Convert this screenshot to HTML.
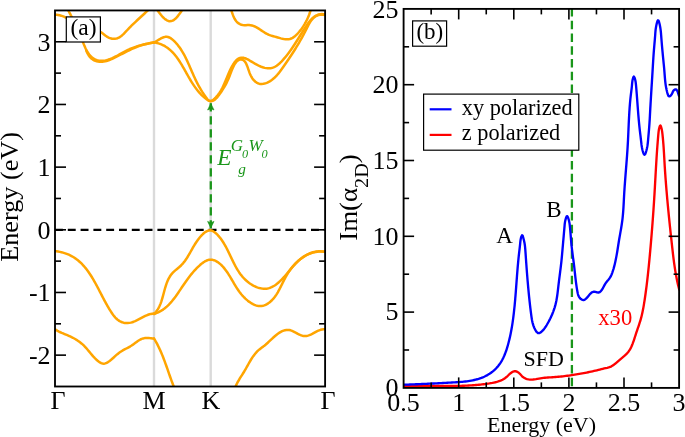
<!DOCTYPE html><html><head><meta charset="utf-8"><style>html,body{margin:0;padding:0;background:#fff;overflow:hidden;}svg{display:block;filter:blur(0.35px);}text{font-family:"Liberation Serif",serif;}</style></head><body>
<svg width="685" height="437" viewBox="0 0 685 437">
<rect width="685" height="437" fill="#fff"/>
<defs><clipPath id="cl"><rect x="55" y="10.45" width="270.1" height="376.05"/></clipPath><clipPath id="cr"><rect x="403.6" y="8.9" width="275.5" height="379.0"/></clipPath></defs>
<line x1="154.0" y1="10.45" x2="154.0" y2="386.5" stroke="#dadada" stroke-width="2.4"/>
<line x1="210.7" y1="10.45" x2="210.7" y2="386.5" stroke="#dadada" stroke-width="2.4"/>
<line x1="55" y1="229.8" x2="325.1" y2="229.8" stroke="#000" stroke-width="2.3" stroke-dasharray="7.9 4.9"/>
<g clip-path="url(#cl)" fill="none" stroke="#ffa500" stroke-width="2.5" stroke-linejoin="round" stroke-linecap="round">
<path d="M54.97,14.81 L56.56,14.86 L58.10,15.03 L59.61,15.30 L61.08,15.68 L62.52,16.14 L63.93,16.67 L65.31,17.28 L66.67,17.94 L68.02,18.65 L69.36,19.40 L70.68,20.17 L72.00,20.97 L73.32,21.76 L74.64,22.56 L75.96,23.34 L77.30,24.10 L78.65,24.82 L80.01,25.51 L81.40,26.14 L82.81,26.72 L84.23,27.25 L85.67,27.74 L87.13,28.20 L88.59,28.61 L90.07,28.99 L91.55,29.35 L93.04,29.68 L94.53,29.99 L96.01,30.32 L97.47,30.70 L98.89,31.18 L100.25,31.80 L101.54,32.58 L102.78,33.49 L104.01,34.45 L105.23,35.43 L106.48,36.34 L107.79,37.15 L109.15,37.81 L110.55,38.32 L111.98,38.67 L113.41,38.84 L114.83,38.82 L116.22,38.62 L117.58,38.21 L118.88,37.61 L120.15,36.85 L121.37,35.94 L122.56,34.92 L123.73,33.82 L124.87,32.66 L126.00,31.47 L127.11,30.27 L128.21,29.10 L129.31,27.95 L130.40,26.83 L131.49,25.74 L132.58,24.66 L133.66,23.61 L134.75,22.57 L135.83,21.54 L136.91,20.52 L138.00,19.51 L139.08,18.51 L140.17,17.50 L141.26,16.50 L142.36,15.49 L143.46,14.48 L144.57,13.46 L145.68,12.42 L146.80,11.37 L147.93,10.30 L149.07,9.22 L150.22,8.11"/>
<path d="M65.83,6.00 L66.61,7.38 L67.37,8.76 L68.11,10.13 L68.84,11.49 L69.56,12.84 L70.26,14.19 L70.96,15.53 L71.64,16.88 L72.30,18.21 L72.96,19.55 L73.61,20.89 L74.25,22.23 L74.89,23.57 L75.51,24.91 L76.13,26.26 L76.75,27.61 L77.35,28.97 L77.96,30.34 L78.56,31.71 L79.16,33.09 L79.75,34.49 L80.35,35.89 L80.94,37.31 L81.53,38.74 L82.12,40.18 L82.72,41.64 L83.32,43.12 L83.92,44.60 L84.54,46.09 L85.18,47.56 L85.86,49.00 L86.57,50.41 L87.33,51.77 L88.14,53.07 L89.01,54.30 L89.96,55.45 L90.98,56.50 L92.08,57.44 L93.24,58.29 L94.46,59.02 L95.73,59.63 L97.03,60.13 L98.36,60.51 L99.72,60.75 L101.09,60.87 L102.47,60.87 L103.85,60.75 L105.25,60.52 L106.65,60.20 L108.07,59.79 L109.48,59.30 L110.90,58.74 L112.33,58.12 L113.76,57.45 L115.18,56.74 L116.61,56.00 L118.04,55.23 L119.47,54.44 L120.89,53.65 L122.31,52.86 L123.73,52.08 L125.14,51.32 L126.54,50.60 L127.94,49.91 L129.32,49.26 L130.71,48.66 L132.08,48.09 L133.46,47.57 L134.84,47.07 L136.22,46.61 L137.60,46.18 L139.00,45.77 L140.40,45.38 L141.82,45.01 L143.25,44.66 L144.70,44.33 L146.16,44.00 L147.65,43.69 L149.16,43.37 L150.70,43.07 L152.26,42.76 L153.86,42.44"/>
<path d="M86.15,50.21 L86.86,52.05 L87.67,53.72 L88.57,55.22 L89.55,56.55 L90.60,57.72 L91.72,58.73 L92.90,59.59 L94.13,60.30 L95.40,60.88 L96.72,61.31 L98.06,61.61 L99.43,61.78 L100.82,61.83 L102.21,61.76 L103.63,61.59 L105.05,61.32 L106.48,60.96 L107.91,60.52 L109.35,60.02 L110.80,59.45 L112.24,58.83 L113.68,58.16 L115.13,57.46 L116.56,56.74 L118.00,56.00 L119.42,55.25 L120.84,54.51 L122.24,53.77 L123.64,53.05 L125.03,52.34 L126.41,51.64 L127.80,50.95 L129.18,50.28 L130.55,49.63 L131.93,48.99 L133.32,48.38 L134.70,47.79 L136.10,47.21 L137.50,46.67 L138.91,46.14 L140.33,45.65 L141.76,45.18 L143.20,44.74 L144.67,44.32 L146.14,43.94 L147.64,43.60 L149.16,43.29 L150.70,43.01 L152.26,42.77 L153.84,42.56"/>
<path d="M153.86,42.52 L154.88,42.09 L156.09,41.41 L157.46,40.56 L158.94,39.63 L160.50,38.70 L162.08,37.87 L163.66,37.22 L165.18,36.84 L166.63,36.78 L168.00,37.00 L169.31,37.45 L170.55,38.11 L171.73,38.92 L172.86,39.85 L173.95,40.86 L174.99,41.90 L176.00,42.98 L176.97,44.08 L177.90,45.22 L178.80,46.39 L179.67,47.58 L180.51,48.79 L181.33,50.03 L182.11,51.30 L182.88,52.58 L183.62,53.88 L184.34,55.20 L185.04,56.54 L185.72,57.89 L186.39,59.26 L187.05,60.64 L187.69,62.02 L188.33,63.42 L188.96,64.83 L189.58,66.24 L190.20,67.65 L190.81,69.07 L191.43,70.49 L192.05,71.91 L192.66,73.33 L193.29,74.75 L193.92,76.17 L194.56,77.57 L195.21,78.98 L195.87,80.37 L196.55,81.75 L197.24,83.12 L197.95,84.48 L198.68,85.83 L199.42,87.16 L200.19,88.49 L200.97,89.80 L201.78,91.10 L202.60,92.40 L203.45,93.68 L204.31,94.96 L205.20,96.24 L206.11,97.50 L207.04,98.76 L208.00,99.93 L209.02,100.75 L210.12,101.03 L211.27,100.84 L212.45,100.28 L213.63,99.44 L214.77,98.42 L215.86,97.31 L216.89,96.18 L217.84,95.02 L218.74,93.83 L219.58,92.61 L220.38,91.37 L221.13,90.11 L221.84,88.82 L222.52,87.52 L223.17,86.19 L223.79,84.85 L224.40,83.48 L224.99,82.10 L225.58,80.71 L226.16,79.30 L226.75,77.87 L227.34,76.44 L227.95,75.00 L228.57,73.54 L229.22,72.08 L229.89,70.61 L230.60,69.13 L231.34,67.65 L232.13,66.18 L232.95,64.75 L233.82,63.38 L234.74,62.10 L235.69,60.92 L236.70,59.89 L237.74,59.02 L238.84,58.33 L239.98,57.86 L241.18,57.63 L242.41,57.63 L243.70,57.85 L245.01,58.24 L246.36,58.78 L247.74,59.45 L249.14,60.22 L250.56,61.05 L251.99,61.91 L253.43,62.79 L254.87,63.65 L256.31,64.46 L257.74,65.22 L259.18,65.91 L260.60,66.52 L262.02,67.06 L263.43,67.52 L264.82,67.88 L266.21,68.13 L267.58,68.28 L268.94,68.31 L270.28,68.22 L271.61,68.00 L272.91,67.64 L274.20,67.14 L275.46,66.49 L276.71,65.71 L277.92,64.81 L279.12,63.82 L280.29,62.74 L281.43,61.60 L282.55,60.40 L283.63,59.17 L284.69,57.92 L285.72,56.67 L286.72,55.42 L287.69,54.17 L288.63,52.92 L289.55,51.68 L290.45,50.44 L291.33,49.20 L292.19,47.96 L293.03,46.72 L293.86,45.48 L294.68,44.24 L295.48,43.00 L296.28,41.76 L297.07,40.52 L297.86,39.27 L298.64,38.02 L299.42,36.77 L300.20,35.52 L300.99,34.27 L301.78,33.01 L302.58,31.74 L303.38,30.47 L304.20,29.20 L305.02,27.92 L305.87,26.64 L306.72,25.35 L307.60,24.06 L308.51,22.80 L309.45,21.56 L310.42,20.37 L311.44,19.25 L312.51,18.20 L313.63,17.23 L314.81,16.37 L316.06,15.63 L317.38,15.02 L318.77,14.56 L320.25,14.25 L321.82,14.12 L323.48,14.18 L325.23,14.44"/>
<path d="M153.72,42.35 L155.35,42.63 L156.93,42.97 L158.45,43.39 L159.92,43.87 L161.34,44.42 L162.71,45.04 L164.03,45.71 L165.31,46.44 L166.54,47.22 L167.73,48.06 L168.89,48.94 L170.00,49.88 L171.08,50.85 L172.13,51.87 L173.14,52.94 L174.12,54.03 L175.08,55.17 L176.00,56.33 L176.91,57.53 L177.79,58.75 L178.65,60.00 L179.49,61.27 L180.32,62.56 L181.13,63.86 L181.93,65.19 L182.72,66.52 L183.49,67.87 L184.26,69.22 L185.03,70.57 L185.79,71.93 L186.55,73.29 L187.31,74.65 L188.07,76.00 L188.84,77.34 L189.61,78.68 L190.39,80.00 L191.18,81.31 L191.99,82.60 L192.81,83.88 L193.64,85.15 L194.49,86.39 L195.37,87.62 L196.26,88.83 L197.18,90.01 L198.13,91.18 L199.10,92.32 L200.11,93.43 L201.15,94.52 L202.22,95.58 L203.33,96.61 L204.48,97.61 L205.67,98.58 L206.90,99.50 L208.16,100.29 L209.42,100.88 L210.69,101.16 L211.94,101.07 L213.17,100.65 L214.37,99.93 L215.55,98.99 L216.68,97.86 L217.77,96.59 L218.82,95.24 L219.82,93.87 L220.76,92.51 L221.65,91.20 L222.49,89.93 L223.28,88.68 L224.03,87.46 L224.74,86.25 L225.42,85.03 L226.07,83.81 L226.70,82.57 L227.32,81.30 L227.92,79.99 L228.51,78.63 L229.10,77.21 L229.70,75.73 L230.30,74.17 L230.91,72.56 L231.54,70.92 L232.20,69.29 L232.89,67.70 L233.61,66.16 L234.37,64.72 L235.18,63.39 L236.04,62.21 L236.97,61.21 L237.95,60.41 L239.00,59.85 L240.13,59.55 L241.29,59.51 L242.43,59.75 L243.46,60.25 L244.38,61.00 L245.18,61.97 L245.90,63.13 L246.54,64.45 L247.14,65.90 L247.70,67.44 L248.25,69.05 L248.81,70.70 L249.40,72.35 L250.03,73.97 L250.73,75.53 L251.52,77.01 L252.38,78.38 L253.32,79.64 L254.34,80.76 L255.42,81.74 L256.57,82.56 L257.79,83.20 L259.06,83.65 L260.38,83.91 L261.75,83.96 L263.15,83.84 L264.57,83.55 L265.99,83.12 L267.40,82.55 L268.78,81.87 L270.13,81.09 L271.43,80.22 L272.67,79.30 L273.85,78.31 L274.97,77.27 L276.05,76.18 L277.08,75.05 L278.08,73.89 L279.04,72.70 L279.98,71.48 L280.89,70.25 L281.79,69.01 L282.68,67.76 L283.56,66.51 L284.43,65.27 L285.30,64.02 L286.16,62.78 L287.02,61.53 L287.87,60.29 L288.72,59.04 L289.56,57.79 L290.39,56.54 L291.22,55.28 L292.04,54.03 L292.85,52.77 L293.66,51.50 L294.46,50.24 L295.25,48.97 L296.04,47.69 L296.83,46.41 L297.60,45.12 L298.37,43.83 L299.13,42.53 L299.89,41.23 L300.64,39.92 L301.38,38.60 L302.12,37.27 L302.85,35.94 L303.57,34.60 L304.29,33.25 L304.99,31.89 L305.70,30.52 L306.39,29.14 L307.08,27.75 L307.77,26.36 L308.48,24.99 L309.20,23.65 L309.96,22.35 L310.77,21.10 L311.62,19.93 L312.54,18.84 L313.54,17.84 L314.62,16.95 L315.79,16.19 L317.07,15.56 L318.46,15.08 L319.98,14.77 L321.63,14.63 L323.43,14.68 L325.39,14.94"/>
<path d="M155.25,7.05 L156.19,8.33 L157.10,9.63 L158.01,10.94 L158.93,12.24 L159.87,13.53 L160.86,14.80 L161.90,16.04 L163.01,17.23 L164.22,18.37 L165.51,19.42 L166.87,20.30 L168.29,20.93 L169.75,21.22 L171.22,21.11 L172.67,20.63 L174.06,19.84 L175.33,18.82 L176.50,17.65 L177.59,16.37 L178.61,15.06 L179.58,13.77 L180.51,12.48 L181.39,11.19 L182.22,9.86 L183.00,8.48 L183.72,7.02"/>
<path d="M229.76,6.10 L230.28,7.35 L230.77,8.70 L231.26,10.13 L231.75,11.62 L232.26,13.13 L232.80,14.65 L233.38,16.15 L234.03,17.61 L234.75,19.00 L235.56,20.31 L236.47,21.50 L237.50,22.56 L238.66,23.45 L239.95,24.17 L241.34,24.71 L242.81,25.07 L244.34,25.23 L245.91,25.20 L247.48,25.07 L249.02,25.04 L250.51,25.18 L251.96,25.48 L253.36,25.91 L254.73,26.47 L256.08,27.12 L257.39,27.86 L258.69,28.65 L259.98,29.49 L261.25,30.34 L262.53,31.20 L263.81,32.03 L265.09,32.83 L266.39,33.58 L267.71,34.24 L269.06,34.82 L270.43,35.32 L271.83,35.77 L273.25,36.19 L274.71,36.59 L276.21,37.00 L277.74,37.44 L279.29,37.90 L280.87,38.35 L282.44,38.75 L284.01,39.08 L285.55,39.29 L287.06,39.37 L288.52,39.28 L289.91,38.99 L291.25,38.52 L292.53,37.88 L293.75,37.10 L294.93,36.20 L296.06,35.19 L297.14,34.12 L298.19,32.98 L299.19,31.81 L300.16,30.61 L301.10,29.40 L302.00,28.16 L302.87,26.89 L303.70,25.61 L304.50,24.31 L305.26,22.99 L305.99,21.65 L306.69,20.29 L307.35,18.92 L307.98,17.54 L308.57,16.14 L309.14,14.72 L309.67,13.30 L310.16,11.86 L310.63,10.41 L311.06,8.95 L311.46,7.49 L311.82,6.01"/>
<path d="M54.68,251.18 L56.44,251.36 L58.14,251.60 L59.81,251.89 L61.42,252.23 L62.99,252.63 L64.52,253.08 L66.00,253.58 L67.44,254.13 L68.84,254.72 L70.21,255.36 L71.53,256.04 L72.82,256.77 L74.07,257.54 L75.28,258.35 L76.47,259.20 L77.62,260.09 L78.74,261.01 L79.83,261.97 L80.89,262.96 L81.92,263.99 L82.93,265.04 L83.91,266.13 L84.87,267.24 L85.81,268.39 L86.72,269.55 L87.61,270.75 L88.49,271.96 L89.34,273.20 L90.18,274.46 L91.01,275.74 L91.82,277.03 L92.61,278.35 L93.40,279.68 L94.17,281.02 L94.93,282.37 L95.69,283.74 L96.43,285.12 L97.17,286.50 L97.91,287.89 L98.64,289.29 L99.37,290.70 L100.10,292.10 L100.83,293.51 L101.55,294.92 L102.28,296.33 L103.02,297.74 L103.76,299.15 L104.50,300.55 L105.25,301.94 L106.01,303.33 L106.77,304.71 L107.55,306.08 L108.34,307.44 L109.14,308.78 L109.96,310.11 L110.79,311.43 L111.64,312.73 L112.51,314.00 L113.41,315.22 L114.34,316.40 L115.30,317.51 L116.31,318.55 L117.37,319.51 L118.49,320.37 L119.66,321.12 L120.89,321.76 L122.19,322.27 L123.54,322.65 L124.94,322.91 L126.38,323.03 L127.83,323.02 L129.31,322.88 L130.78,322.61 L132.25,322.21 L133.72,321.70 L135.18,321.11 L136.64,320.44 L138.10,319.72 L139.54,318.97 L140.99,318.20 L142.42,317.43 L143.85,316.68 L145.27,315.97 L146.68,315.32 L148.08,314.75 L149.47,314.27 L150.85,313.90 L152.22,313.66 L153.58,313.57"/>
<path d="M154.08,313.91 L155.11,312.84 L156.06,311.73 L156.94,310.56 L157.74,309.35 L158.48,308.10 L159.15,306.81 L159.78,305.48 L160.35,304.12 L160.88,302.73 L161.38,301.32 L161.84,299.89 L162.28,298.43 L162.70,296.96 L163.10,295.48 L163.50,294.00 L163.89,292.50 L164.29,291.00 L164.70,289.51 L165.12,288.02 L165.56,286.54 L166.03,285.07 L166.53,283.61 L167.07,282.18 L167.65,280.77 L168.28,279.39 L168.96,278.05 L169.71,276.76 L170.52,275.51 L171.39,274.33 L172.35,273.20 L173.38,272.14 L174.47,271.13 L175.60,270.15 L176.75,269.20 L177.91,268.24 L179.05,267.28 L180.17,266.29 L181.23,265.25 L182.25,264.18 L183.22,263.06 L184.15,261.91 L185.04,260.72 L185.89,259.50 L186.72,258.26 L187.53,256.99 L188.31,255.70 L189.08,254.39 L189.84,253.08 L190.60,251.75 L191.35,250.41 L192.10,249.08 L192.86,247.74 L193.63,246.41 L194.42,245.08 L195.23,243.76 L196.06,242.46 L196.92,241.18 L197.81,239.91 L198.75,238.67 L199.72,237.46 L200.74,236.28 L201.81,235.13 L202.93,234.03 L204.10,233.01 L205.29,232.11 L206.51,231.36 L207.74,230.80 L208.98,230.45 L210.22,230.35 L211.44,230.54 L212.64,230.98 L213.82,231.64 L214.97,232.47 L216.08,233.43 L217.15,234.48 L218.18,235.56 L219.16,236.69 L220.10,237.84 L221.01,239.02 L221.87,240.24 L222.71,241.48 L223.51,242.74 L224.29,244.03 L225.05,245.33 L225.78,246.65 L226.49,247.99 L227.19,249.35 L227.87,250.71 L228.54,252.08 L229.21,253.47 L229.87,254.85 L230.52,256.24 L231.18,257.64 L231.84,259.03 L232.51,260.41 L233.18,261.80 L233.87,263.17 L234.57,264.54 L235.28,265.90 L236.02,267.24 L236.78,268.57 L237.56,269.88 L238.38,271.17 L239.22,272.43 L240.10,273.68 L241.01,274.90 L241.96,276.09 L242.95,277.25 L243.99,278.38 L245.07,279.47 L246.21,280.53 L247.38,281.55 L248.60,282.52 L249.85,283.43 L251.14,284.29 L252.45,285.09 L253.79,285.83 L255.15,286.49 L256.52,287.07 L257.91,287.58 L259.31,288.00 L260.72,288.33 L262.12,288.56 L263.52,288.69 L264.92,288.72 L266.30,288.64 L267.68,288.44 L269.03,288.13 L270.36,287.69 L271.67,287.14 L272.97,286.49 L274.24,285.75 L275.49,284.92 L276.72,284.01 L277.93,283.04 L279.12,282.00 L280.28,280.92 L281.43,279.78 L282.55,278.62 L283.66,277.43 L284.74,276.22 L285.80,275.00 L286.84,273.78 L287.85,272.56 L288.85,271.36 L289.82,270.19 L290.79,269.03 L291.74,267.90 L292.70,266.78 L293.66,265.69 L294.63,264.62 L295.61,263.57 L296.63,262.54 L297.67,261.53 L298.75,260.54 L299.87,259.58 L301.02,258.64 L302.22,257.73 L303.45,256.86 L304.71,256.03 L306.01,255.26 L307.34,254.53 L308.69,253.87 L310.08,253.27 L311.49,252.74 L312.92,252.28 L314.37,251.90 L315.85,251.61 L317.35,251.41 L318.86,251.31 L320.39,251.30 L321.93,251.41 L323.48,251.62 L325.05,251.95"/>
<path d="M153.91,313.94 L155.40,313.46 L156.84,312.93 L158.23,312.33 L159.57,311.66 L160.87,310.95 L162.13,310.17 L163.35,309.35 L164.53,308.48 L165.67,307.56 L166.78,306.59 L167.86,305.59 L168.91,304.55 L169.93,303.47 L170.93,302.36 L171.91,301.23 L172.86,300.06 L173.79,298.87 L174.71,297.66 L175.62,296.44 L176.51,295.19 L177.39,293.94 L178.26,292.67 L179.13,291.40 L180.00,290.12 L180.86,288.84 L181.72,287.56 L182.59,286.28 L183.46,285.01 L184.33,283.73 L185.21,282.47 L186.09,281.21 L186.99,279.96 L187.89,278.72 L188.81,277.49 L189.74,276.27 L190.68,275.07 L191.64,273.88 L192.61,272.71 L193.61,271.55 L194.62,270.41 L195.65,269.30 L196.71,268.20 L197.79,267.13 L198.90,266.08 L200.03,265.06 L201.19,264.07 L202.38,263.12 L203.59,262.24 L204.82,261.45 L206.08,260.78 L207.35,260.24 L208.64,259.86 L209.94,259.66 L211.25,259.66 L212.57,259.85 L213.88,260.20 L215.17,260.70 L216.44,261.33 L217.68,262.08 L218.88,262.93 L220.04,263.87 L221.17,264.90 L222.26,266.00 L223.31,267.16 L224.34,268.38 L225.33,269.65 L226.30,270.97 L227.24,272.31 L228.15,273.68 L229.03,275.07 L229.90,276.46 L230.74,277.86 L231.56,279.24 L232.36,280.61 L233.15,281.95 L233.92,283.27 L234.69,284.57 L235.46,285.84 L236.23,287.09 L237.01,288.32 L237.81,289.53 L238.62,290.72 L239.46,291.90 L240.34,293.05 L241.25,294.19 L242.20,295.31 L243.20,296.41 L244.25,297.50 L245.36,298.58 L246.53,299.64 L247.75,300.66 L249.01,301.64 L250.32,302.56 L251.66,303.40 L253.03,304.16 L254.43,304.81 L255.84,305.34 L257.25,305.75 L258.68,306.01 L260.10,306.12 L261.51,306.05 L262.91,305.80 L264.28,305.39 L265.63,304.83 L266.94,304.14 L268.19,303.35 L269.40,302.47 L270.54,301.53 L271.62,300.53 L272.64,299.48 L273.61,298.38 L274.52,297.24 L275.40,296.05 L276.23,294.83 L277.03,293.57 L277.80,292.28 L278.54,290.97 L279.26,289.63 L279.97,288.27 L280.66,286.90 L281.35,285.52 L282.03,284.13 L282.71,282.73 L283.41,281.34 L284.11,279.95 L284.83,278.56 L285.57,277.19 L286.34,275.83 L287.13,274.48 L287.95,273.16 L288.80,271.86 L289.67,270.57 L290.57,269.32 L291.50,268.09 L292.46,266.89 L293.44,265.71 L294.45,264.58 L295.49,263.47 L296.55,262.40 L297.64,261.37 L298.76,260.38 L299.90,259.43 L301.07,258.52 L302.27,257.66 L303.50,256.85 L304.75,256.09 L306.03,255.38 L307.34,254.72 L308.67,254.11 L310.03,253.57 L311.41,253.08 L312.83,252.65 L314.27,252.29 L315.73,251.99 L317.23,251.75 L318.75,251.59 L320.29,251.50 L321.87,251.47 L323.47,251.53 L325.09,251.65"/>
<path d="M55.02,329.26 L56.31,330.11 L57.64,330.88 L58.98,331.59 L60.35,332.25 L61.74,332.88 L63.14,333.47 L64.54,334.05 L65.95,334.62 L67.36,335.20 L68.76,335.80 L70.15,336.42 L71.53,337.08 L72.90,337.77 L74.24,338.50 L75.56,339.27 L76.86,340.08 L78.13,340.92 L79.37,341.80 L80.58,342.72 L81.75,343.68 L82.88,344.68 L83.97,345.72 L85.02,346.80 L86.04,347.91 L87.03,349.04 L88.01,350.20 L88.98,351.37 L89.95,352.54 L90.93,353.72 L91.92,354.90 L92.93,356.06 L93.97,357.22 L95.05,358.35 L96.18,359.45 L97.36,360.52 L98.59,361.53 L99.88,362.41 L101.20,363.10 L102.55,363.54 L103.92,363.65 L105.30,363.39 L106.67,362.81 L108.00,362.05 L109.28,361.19 L110.50,360.26 L111.68,359.28 L112.84,358.26 L113.98,357.23 L115.11,356.19 L116.25,355.16 L117.40,354.16 L118.59,353.21 L119.81,352.32 L121.07,351.49 L122.37,350.70 L123.69,349.95 L125.02,349.22 L126.36,348.51 L127.71,347.79 L129.04,347.06 L130.36,346.30 L131.66,345.50 L132.93,344.66 L134.17,343.77 L135.40,342.85 L136.62,341.94 L137.85,341.06 L139.10,340.24 L140.40,339.51 L141.75,338.89 L143.17,338.42 L144.67,338.12 L146.25,338.00 L147.86,338.01 L149.47,338.12 L151.04,338.27 L152.52,338.44 L153.87,338.57"/>
<path d="M154.06,338.61 L154.86,339.93 L155.64,341.26 L156.39,342.61 L157.12,343.96 L157.83,345.33 L158.51,346.71 L159.18,348.09 L159.83,349.49 L160.47,350.89 L161.08,352.30 L161.69,353.72 L162.27,355.15 L162.85,356.58 L163.41,358.02 L163.97,359.46 L164.51,360.91 L165.05,362.36 L165.58,363.82 L166.10,365.27 L166.62,366.73 L167.14,368.20 L167.65,369.66 L168.16,371.12 L168.67,372.59 L169.18,374.05 L169.69,375.51 L170.20,376.97 L170.72,378.43 L171.25,379.88 L171.77,381.33 L172.31,382.78 L172.86,384.22 L173.41,385.66 L173.97,387.09 L174.55,388.52 L175.14,389.94"/>
<path d="M234.31,391.02 L234.67,389.50 L235.11,388.01 L235.62,386.57 L236.20,385.15 L236.84,383.77 L237.53,382.41 L238.26,381.08 L239.02,379.76 L239.81,378.45 L240.62,377.15 L241.45,375.86 L242.28,374.57 L243.10,373.27 L243.91,371.97 L244.70,370.66 L245.48,369.33 L246.23,368.00 L246.98,366.66 L247.73,365.32 L248.47,363.98 L249.22,362.65 L249.99,361.32 L250.77,360.01 L251.58,358.71 L252.42,357.43 L253.29,356.16 L254.20,354.93 L255.15,353.73 L256.14,352.58 L257.19,351.46 L258.28,350.40 L259.44,349.40 L260.65,348.45 L261.88,347.54 L263.13,346.63 L264.34,345.70 L265.52,344.75 L266.67,343.75 L267.79,342.74 L268.89,341.70 L269.99,340.66 L271.09,339.60 L272.20,338.55 L273.34,337.50 L274.50,336.46 L275.69,335.44 L276.93,334.46 L278.20,333.52 L279.51,332.65 L280.84,331.87 L282.20,331.19 L283.58,330.63 L284.98,330.22 L286.39,329.97 L287.82,329.89 L289.26,330.01 L290.70,330.34 L292.14,330.86 L293.59,331.52 L295.04,332.27 L296.49,333.07 L297.94,333.85 L299.38,334.57 L300.82,335.19 L302.26,335.66 L303.69,335.95 L305.12,336.05 L306.55,335.95 L307.97,335.65 L309.38,335.18 L310.79,334.58 L312.18,333.89 L313.56,333.14 L314.94,332.36 L316.33,331.61 L317.72,330.92 L319.13,330.31 L320.56,329.81 L322.03,329.44 L323.54,329.24 L325.10,329.22"/>
</g>
<line x1="210.8" y1="103.2" x2="210.8" y2="228.2" stroke="#1a961a" stroke-width="2.3" stroke-dasharray="8.3 4.7"/>
<path d="M210.8,103.4 L214,110 L210.8,108.7 L207.6,110 Z" fill="#1a961a" stroke="#1a961a" stroke-width="0.6"/>
<path d="M210.8,228 L214,221.4 L210.8,222.7 L207.6,221.4 Z" fill="#1a961a" stroke="#1a961a" stroke-width="0.6"/>
<g fill="#1a961a" font-style="italic">
<text x="217.2" y="164.9" font-size="23.3">E</text>
<text x="230.8" y="151.3" font-size="17">G</text>
<text x="241.9" y="157.5" font-size="12.3">0</text>
<text x="248.5" y="151.3" font-size="17">W</text>
<text x="261.4" y="157.5" font-size="12.3">0</text>
<text x="238.2" y="173.6" font-size="15.2">g</text>
</g>
<rect x="55" y="10.45" width="270.1" height="376.05" fill="none" stroke="#000" stroke-width="1.85"/>
<line x1="55" y1="355.14" x2="66" y2="355.14" stroke="#000" stroke-width="1.6"/>
<line x1="325.1" y1="355.14" x2="314.1" y2="355.14" stroke="#000" stroke-width="1.6"/>
<line x1="55" y1="323.81" x2="61" y2="323.81" stroke="#000" stroke-width="1.6"/>
<line x1="325.1" y1="323.81" x2="319.1" y2="323.81" stroke="#000" stroke-width="1.6"/>
<line x1="55" y1="292.47" x2="66" y2="292.47" stroke="#000" stroke-width="1.6"/>
<line x1="325.1" y1="292.47" x2="314.1" y2="292.47" stroke="#000" stroke-width="1.6"/>
<line x1="55" y1="261.13" x2="61" y2="261.13" stroke="#000" stroke-width="1.6"/>
<line x1="325.1" y1="261.13" x2="319.1" y2="261.13" stroke="#000" stroke-width="1.6"/>
<line x1="55" y1="229.80" x2="66" y2="229.80" stroke="#000" stroke-width="1.6"/>
<line x1="325.1" y1="229.80" x2="314.1" y2="229.80" stroke="#000" stroke-width="1.6"/>
<line x1="55" y1="198.47" x2="61" y2="198.47" stroke="#000" stroke-width="1.6"/>
<line x1="325.1" y1="198.47" x2="319.1" y2="198.47" stroke="#000" stroke-width="1.6"/>
<line x1="55" y1="167.13" x2="66" y2="167.13" stroke="#000" stroke-width="1.6"/>
<line x1="325.1" y1="167.13" x2="314.1" y2="167.13" stroke="#000" stroke-width="1.6"/>
<line x1="55" y1="135.80" x2="61" y2="135.80" stroke="#000" stroke-width="1.6"/>
<line x1="325.1" y1="135.80" x2="319.1" y2="135.80" stroke="#000" stroke-width="1.6"/>
<line x1="55" y1="104.46" x2="66" y2="104.46" stroke="#000" stroke-width="1.6"/>
<line x1="325.1" y1="104.46" x2="314.1" y2="104.46" stroke="#000" stroke-width="1.6"/>
<line x1="55" y1="73.12" x2="61" y2="73.12" stroke="#000" stroke-width="1.6"/>
<line x1="325.1" y1="73.12" x2="319.1" y2="73.12" stroke="#000" stroke-width="1.6"/>
<line x1="55" y1="41.79" x2="66" y2="41.79" stroke="#000" stroke-width="1.6"/>
<line x1="325.1" y1="41.79" x2="314.1" y2="41.79" stroke="#000" stroke-width="1.6"/>
<text x="50.6" y="364.0" font-size="26" text-anchor="end">-2</text>
<text x="50.6" y="301.4" font-size="26" text-anchor="end">-1</text>
<text x="50.6" y="238.7" font-size="26" text-anchor="end">0</text>
<text x="50.6" y="176.0" font-size="26" text-anchor="end">1</text>
<text x="50.6" y="113.4" font-size="26" text-anchor="end">2</text>
<text x="50.6" y="50.7" font-size="26" text-anchor="end">3</text>
<text x="58.1" y="409.4" font-size="26" text-anchor="middle">Γ</text>
<text x="154" y="409.4" font-size="26" text-anchor="middle">M</text>
<text x="211" y="409.4" font-size="26" text-anchor="middle">K</text>
<text x="328.1" y="409.4" font-size="26" text-anchor="middle">Γ</text>
<text transform="translate(17.6,196.9) rotate(-90) scale(1.008,1)" font-size="26" text-anchor="middle">Energy (eV)</text>
<rect x="66.3" y="16.9" width="34.1" height="25.1" fill="#fff" stroke="#000" stroke-width="1.2"/>
<text x="83.5" y="35.2" font-size="23.5" text-anchor="middle">(a)</text>
<line x1="571.9" y1="8.1" x2="571.9" y2="387.9" stroke="#1a961a" stroke-width="2.3" stroke-dasharray="8.3 4.45"/>
<g clip-path="url(#cr)" fill="none" stroke-width="2.35" stroke-linejoin="round" stroke-linecap="round">
<path d="M403.80,386.22 L405.30,386.16 L406.80,386.11 L408.30,386.07 L409.80,386.03 L411.30,386.00 L412.80,385.97 L414.31,385.95 L415.81,385.93 L417.31,385.92 L418.82,385.91 L420.32,385.91 L421.83,385.91 L423.33,385.91 L424.84,385.91 L426.35,385.92 L427.85,385.92 L429.36,385.93 L430.87,385.94 L432.38,385.95 L433.88,385.97 L435.39,385.98 L436.90,385.99 L438.41,386.00 L439.92,386.01 L441.42,386.02 L442.93,386.02 L444.44,386.03 L445.95,386.03 L447.46,386.03 L448.96,386.02 L450.47,386.02 L451.98,386.01 L453.48,385.99 L454.99,385.97 L456.49,385.94 L458.00,385.91 L459.50,385.88 L461.01,385.84 L462.51,385.79 L464.01,385.73 L465.52,385.67 L467.02,385.60 L468.52,385.52 L470.02,385.44 L471.52,385.35 L473.01,385.24 L474.51,385.13 L476.01,385.01 L477.50,384.88 L478.99,384.74 L480.49,384.59 L481.98,384.42 L483.47,384.25 L484.96,384.06 L486.45,383.87 L487.93,383.65 L489.42,383.43 L490.90,383.17 L492.38,382.90 L493.86,382.59 L495.34,382.25 L496.81,381.87 L498.28,381.44 L499.73,380.96 L501.14,380.41 L502.50,379.78 L503.78,379.04 L504.99,378.19 L506.13,377.27 L507.25,376.28 L508.36,375.25 L509.49,374.22 L510.67,373.20 L511.92,372.26 L513.23,371.53 L514.59,371.17 L516.00,371.29 L517.40,371.86 L518.72,372.75 L519.90,373.82 L520.92,374.94 L521.90,376.03 L522.95,377.03 L524.19,377.88 L525.57,378.56 L527.03,379.06 L528.50,379.39 L529.98,379.56 L531.46,379.60 L532.95,379.53 L534.44,379.37 L535.93,379.15 L537.42,378.89 L538.92,378.62 L540.41,378.35 L541.91,378.11 L543.41,377.92 L544.91,377.76 L546.41,377.64 L547.91,377.53 L549.41,377.44 L550.91,377.34 L552.40,377.25 L553.90,377.14 L555.40,377.03 L556.90,376.90 L558.39,376.77 L559.89,376.62 L561.38,376.46 L562.88,376.30 L564.37,376.12 L565.87,375.94 L567.36,375.75 L568.85,375.55 L570.34,375.34 L571.83,375.12 L573.32,374.90 L574.80,374.67 L576.29,374.43 L577.78,374.18 L579.26,373.93 L580.75,373.67 L582.23,373.40 L583.71,373.13 L585.19,372.84 L586.67,372.56 L588.15,372.26 L589.62,371.95 L591.09,371.64 L592.56,371.32 L594.03,370.98 L595.49,370.64 L596.95,370.29 L598.40,369.92 L599.85,369.55 L601.30,369.16 L602.74,368.77 L604.21,368.40 L605.71,368.10 L607.23,367.81 L608.71,367.45 L610.12,366.96 L611.45,366.32 L612.71,365.56 L613.92,364.70 L615.09,363.78 L616.24,362.80 L617.39,361.80 L618.53,360.80 L619.70,359.81 L620.88,358.84 L622.06,357.88 L623.22,356.91 L624.37,355.93 L625.48,354.92 L626.55,353.88 L627.56,352.79 L628.50,351.64 L629.36,350.43 L630.14,349.15 L630.86,347.83 L631.51,346.46 L632.11,345.06 L632.67,343.64 L633.19,342.22 L633.70,340.79 L634.18,339.37 L634.64,337.94 L635.10,336.51 L635.56,335.08 L636.02,333.65 L636.49,332.22 L636.96,330.80 L637.45,329.37 L637.94,327.95 L638.43,326.52 L638.91,325.09 L639.39,323.66 L639.85,322.23 L640.30,320.79 L640.72,319.35 L641.12,317.90 L641.50,316.44 L641.85,314.98 L642.19,313.52 L642.51,312.05 L642.81,310.58 L643.10,309.10 L643.38,307.62 L643.64,306.14 L643.89,304.66 L644.13,303.17 L644.37,301.68 L644.60,300.20 L644.82,298.71 L645.04,297.22 L645.25,295.73 L645.47,294.24 L645.67,292.75 L645.87,291.26 L646.07,289.76 L646.27,288.27 L646.46,286.78 L646.65,285.29 L646.83,283.79 L647.01,282.30 L647.19,280.80 L647.36,279.31 L647.53,277.81 L647.70,276.32 L647.87,274.82 L648.03,273.33 L648.19,271.83 L648.35,270.33 L648.50,268.84 L648.66,267.34 L648.81,265.84 L648.95,264.34 L649.10,262.85 L649.25,261.35 L649.39,259.85 L649.53,258.35 L649.67,256.85 L649.81,255.36 L649.95,253.86 L650.08,252.36 L650.22,250.86 L650.35,249.36 L650.48,247.86 L650.62,246.36 L650.75,244.87 L650.88,243.37 L651.00,241.87 L651.13,240.37 L651.26,238.87 L651.38,237.37 L651.51,235.87 L651.63,234.37 L651.75,232.87 L651.87,231.37 L651.99,229.87 L652.11,228.37 L652.23,226.87 L652.34,225.37 L652.46,223.87 L652.57,222.37 L652.68,220.87 L652.79,219.37 L652.90,217.87 L653.01,216.37 L653.12,214.87 L653.23,213.37 L653.33,211.87 L653.44,210.37 L653.54,208.87 L653.64,207.37 L653.74,205.86 L653.84,204.36 L653.94,202.86 L654.03,201.36 L654.13,199.86 L654.22,198.35 L654.31,196.85 L654.41,195.35 L654.50,193.85 L654.59,192.34 L654.67,190.84 L654.76,189.34 L654.85,187.83 L654.93,186.33 L655.02,184.83 L655.10,183.32 L655.18,181.82 L655.27,180.32 L655.35,178.81 L655.44,177.31 L655.52,175.81 L655.60,174.30 L655.69,172.80 L655.77,171.30 L655.86,169.79 L655.94,168.29 L656.03,166.79 L656.12,165.29 L656.21,163.78 L656.30,162.28 L656.39,160.78 L656.48,159.28 L656.57,157.78 L656.67,156.28 L656.77,154.78 L656.87,153.28 L656.97,151.78 L657.07,150.28 L657.18,148.78 L657.29,147.28 L657.40,145.78 L657.51,144.29 L657.63,142.79 L657.74,141.30 L657.87,139.80 L657.99,138.31 L658.12,136.81 L658.25,135.32 L658.38,133.83 L658.53,132.33 L658.71,130.82 L658.96,129.29 L659.31,127.72 L659.78,126.15 L660.35,125.45 L660.93,126.45 L661.42,128.05 L661.80,129.61 L662.07,131.13 L662.28,132.62 L662.46,134.10 L662.62,135.59 L662.77,137.07 L662.92,138.56 L663.05,140.05 L663.18,141.54 L663.30,143.04 L663.42,144.53 L663.52,146.03 L663.63,147.53 L663.73,149.03 L663.82,150.53 L663.92,152.03 L664.01,153.53 L664.09,155.04 L664.18,156.54 L664.27,158.05 L664.35,159.55 L664.44,161.06 L664.52,162.56 L664.61,164.07 L664.70,165.57 L664.79,167.07 L664.89,168.58 L664.98,170.08 L665.08,171.58 L665.19,173.09 L665.29,174.59 L665.40,176.09 L665.50,177.59 L665.61,179.09 L665.73,180.60 L665.84,182.10 L665.96,183.60 L666.08,185.10 L666.20,186.60 L666.32,188.10 L666.44,189.60 L666.57,191.09 L666.70,192.59 L666.83,194.09 L666.96,195.59 L667.09,197.09 L667.22,198.59 L667.36,200.08 L667.50,201.58 L667.63,203.08 L667.77,204.58 L667.92,206.08 L668.06,207.57 L668.20,209.07 L668.35,210.57 L668.50,212.06 L668.64,213.56 L668.79,215.06 L668.94,216.55 L669.09,218.05 L669.25,219.55 L669.40,221.04 L669.55,222.54 L669.71,224.03 L669.86,225.53 L670.02,227.03 L670.18,228.52 L670.34,230.02 L670.49,231.52 L670.65,233.01 L670.81,234.51 L670.97,236.01 L671.14,237.50 L671.30,239.00 L671.46,240.49 L671.62,241.99 L671.78,243.49 L671.95,244.99 L672.11,246.48 L672.28,247.98 L672.45,249.48 L672.62,250.97 L672.79,252.47 L672.96,253.96 L673.14,255.46 L673.32,256.95 L673.51,258.45 L673.70,259.94 L673.90,261.43 L674.10,262.92 L674.31,264.41 L674.53,265.90 L674.75,267.39 L674.98,268.88 L675.21,270.36 L675.46,271.84 L675.71,273.33 L675.97,274.81 L676.25,276.29 L676.53,277.76 L676.82,279.24 L677.12,280.71 L677.44,282.18 L677.76,283.65 L678.10,285.12 L678.45,286.58 L678.81,288.04 L679.19,289.50" stroke="#ff0000"/>
<path d="M403.80,384.70 L405.30,384.65 L406.80,384.60 L408.31,384.55 L409.81,384.50 L411.31,384.44 L412.81,384.38 L414.31,384.33 L415.82,384.27 L417.32,384.21 L418.82,384.15 L420.32,384.08 L421.82,384.02 L423.32,383.95 L424.82,383.89 L426.33,383.82 L427.83,383.75 L429.33,383.68 L430.83,383.61 L432.33,383.54 L433.83,383.47 L435.33,383.39 L436.83,383.32 L438.33,383.24 L439.84,383.17 L441.34,383.09 L442.84,383.01 L444.34,382.94 L445.84,382.86 L447.34,382.78 L448.84,382.70 L450.34,382.62 L451.85,382.54 L453.35,382.45 L454.85,382.37 L456.35,382.27 L457.85,382.17 L459.35,382.06 L460.84,381.94 L462.34,381.81 L463.83,381.66 L465.32,381.49 L466.81,381.30 L468.30,381.09 L469.78,380.86 L471.26,380.60 L472.74,380.31 L474.21,379.99 L475.67,379.64 L477.13,379.26 L478.57,378.84 L480.00,378.37 L481.42,377.87 L482.82,377.31 L484.20,376.71 L485.56,376.06 L486.90,375.36 L488.21,374.60 L489.49,373.80 L490.74,372.94 L491.96,372.04 L493.13,371.09 L494.27,370.10 L495.37,369.07 L496.42,367.99 L497.43,366.88 L498.38,365.73 L499.28,364.55 L500.14,363.33 L500.94,362.09 L501.71,360.81 L502.43,359.51 L503.11,358.18 L503.75,356.83 L504.36,355.46 L504.93,354.07 L505.47,352.66 L505.99,351.24 L506.48,349.81 L506.94,348.37 L507.38,346.92 L507.80,345.46 L508.21,344.00 L508.60,342.53 L508.97,341.07 L509.33,339.60 L509.68,338.13 L510.01,336.66 L510.33,335.19 L510.64,333.72 L510.93,332.24 L511.21,330.77 L511.49,329.29 L511.75,327.81 L512.00,326.33 L512.24,324.85 L512.47,323.37 L512.69,321.88 L512.90,320.40 L513.11,318.91 L513.30,317.43 L513.49,315.94 L513.67,314.45 L513.84,312.96 L514.01,311.47 L514.17,309.98 L514.33,308.49 L514.48,307.00 L514.63,305.51 L514.77,304.01 L514.90,302.52 L515.04,301.02 L515.17,299.53 L515.29,298.03 L515.42,296.54 L515.54,295.04 L515.66,293.54 L515.78,292.05 L515.89,290.55 L516.00,289.05 L516.12,287.55 L516.23,286.05 L516.34,284.55 L516.45,283.05 L516.56,281.55 L516.67,280.05 L516.79,278.55 L516.90,277.05 L517.01,275.55 L517.13,274.05 L517.25,272.55 L517.37,271.05 L517.49,269.55 L517.61,268.05 L517.74,266.54 L517.87,265.04 L518.01,263.54 L518.15,262.04 L518.29,260.54 L518.44,259.03 L518.59,257.53 L518.75,256.03 L518.91,254.53 L519.08,253.03 L519.26,251.52 L519.44,250.03 L519.61,248.53 L519.79,247.05 L519.95,245.59 L520.11,244.14 L520.24,242.72 L520.38,241.30 L520.58,239.82 L520.91,238.20 L521.43,236.42 L522.06,235.18 L522.65,235.61 L523.16,237.25 L523.60,238.97 L523.98,240.50 L524.30,241.92 L524.57,243.31 L524.79,244.73 L524.97,246.18 L525.13,247.66 L525.26,249.15 L525.37,250.66 L525.48,252.17 L525.59,253.68 L525.69,255.19 L525.80,256.70 L525.90,258.21 L526.01,259.72 L526.12,261.23 L526.22,262.73 L526.33,264.24 L526.44,265.74 L526.55,267.24 L526.66,268.74 L526.78,270.24 L526.89,271.74 L527.01,273.24 L527.13,274.74 L527.25,276.24 L527.37,277.73 L527.49,279.23 L527.61,280.73 L527.74,282.22 L527.87,283.72 L528.00,285.21 L528.13,286.70 L528.27,288.20 L528.41,289.69 L528.55,291.18 L528.69,292.68 L528.84,294.17 L528.99,295.66 L529.14,297.15 L529.30,298.65 L529.46,300.14 L529.62,301.63 L529.79,303.12 L529.95,304.61 L530.13,306.11 L530.30,307.60 L530.49,309.09 L530.67,310.59 L530.86,312.08 L531.05,313.57 L531.25,315.07 L531.45,316.56 L531.67,318.05 L531.91,319.54 L532.19,321.02 L532.51,322.49 L532.89,323.94 L533.33,325.38 L533.85,326.81 L534.45,328.21 L535.14,329.58 L535.95,330.93 L536.87,332.18 L537.93,333.02 L539.16,333.12 L540.50,332.47 L541.84,331.37 L543.06,330.13 L544.11,328.90 L545.01,327.70 L545.82,326.49 L546.58,325.27 L547.32,324.02 L548.05,322.75 L548.76,321.46 L549.45,320.14 L550.13,318.81 L550.78,317.45 L551.41,316.07 L552.02,314.68 L552.60,313.28 L553.16,311.86 L553.68,310.43 L554.18,308.99 L554.64,307.55 L555.07,306.09 L555.47,304.63 L555.82,303.17 L556.15,301.70 L556.45,300.23 L556.71,298.76 L556.96,297.28 L557.19,295.80 L557.39,294.32 L557.59,292.83 L557.77,291.34 L557.95,289.86 L558.12,288.36 L558.29,286.87 L558.46,285.38 L558.64,283.89 L558.82,282.39 L559.00,280.90 L559.19,279.40 L559.38,277.91 L559.58,276.41 L559.77,274.92 L559.96,273.42 L560.15,271.93 L560.34,270.44 L560.53,268.95 L560.71,267.46 L560.89,265.97 L561.06,264.49 L561.22,263.01 L561.38,261.53 L561.53,260.04 L561.68,258.56 L561.82,257.08 L561.96,255.59 L562.10,254.10 L562.23,252.61 L562.37,251.11 L562.50,249.60 L562.63,248.09 L562.76,246.57 L562.90,245.04 L563.03,243.50 L563.17,241.96 L563.30,240.41 L563.44,238.87 L563.57,237.33 L563.71,235.79 L563.84,234.27 L563.97,232.76 L564.10,231.27 L564.23,229.81 L564.35,228.37 L564.48,226.95 L564.59,225.57 L564.71,224.22 L564.87,222.84 L565.10,221.39 L565.46,219.81 L565.97,218.03 L566.63,216.45 L567.36,216.19 L568.05,217.51 L568.62,219.31 L569.05,220.95 L569.36,222.42 L569.59,223.81 L569.76,225.15 L569.91,226.51 L570.05,227.91 L570.19,229.34 L570.31,230.80 L570.44,232.28 L570.56,233.79 L570.68,235.31 L570.80,236.84 L570.92,238.38 L571.04,239.93 L571.17,241.47 L571.31,243.02 L571.46,244.56 L571.61,246.09 L571.78,247.61 L571.95,249.12 L572.13,250.62 L572.32,252.12 L572.51,253.61 L572.71,255.10 L572.90,256.58 L573.10,258.06 L573.30,259.53 L573.49,261.01 L573.68,262.49 L573.87,263.97 L574.05,265.45 L574.23,266.93 L574.40,268.42 L574.56,269.91 L574.73,271.40 L574.89,272.90 L575.06,274.39 L575.22,275.89 L575.39,277.39 L575.57,278.88 L575.74,280.38 L575.93,281.87 L576.12,283.37 L576.33,284.86 L576.54,286.35 L576.77,287.83 L577.01,289.32 L577.26,290.80 L577.54,292.27 L577.85,293.74 L578.26,295.18 L578.87,296.57 L579.73,297.89 L580.88,299.07 L582.19,299.87 L583.54,300.08 L584.84,299.61 L586.07,298.65 L587.22,297.42 L588.25,296.14 L589.22,294.94 L590.20,293.84 L591.29,292.84 L592.57,292.01 L593.98,291.62 L595.45,291.85 L596.96,292.31 L598.42,292.51 L599.74,292.09 L600.89,291.11 L601.89,289.80 L602.75,288.38 L603.51,287.00 L604.22,285.67 L604.93,284.39 L605.69,283.16 L606.55,281.97 L607.51,280.81 L608.50,279.64 L609.44,278.45 L610.28,277.19 L610.99,275.87 L611.60,274.50 L612.14,273.10 L612.63,271.67 L613.09,270.24 L613.53,268.81 L613.94,267.36 L614.33,265.91 L614.70,264.46 L615.04,263.00 L615.37,261.54 L615.68,260.07 L615.98,258.60 L616.26,257.12 L616.54,255.64 L616.80,254.16 L617.05,252.68 L617.30,251.20 L617.54,249.71 L617.77,248.22 L618.01,246.74 L618.24,245.25 L618.48,243.76 L618.71,242.27 L618.96,240.79 L619.20,239.30 L619.46,237.82 L619.71,236.34 L619.98,234.86 L620.24,233.38 L620.50,231.90 L620.76,230.42 L621.01,228.94 L621.26,227.46 L621.50,225.98 L621.73,224.50 L621.95,223.02 L622.16,221.53 L622.35,220.05 L622.53,218.56 L622.69,217.06 L622.84,215.57 L622.97,214.08 L623.10,212.58 L623.21,211.08 L623.32,209.58 L623.42,208.08 L623.51,206.58 L623.59,205.07 L623.68,203.57 L623.76,202.07 L623.83,200.56 L623.91,199.06 L623.99,197.56 L624.07,196.05 L624.15,194.55 L624.24,193.05 L624.33,191.55 L624.43,190.05 L624.53,188.54 L624.63,187.04 L624.73,185.54 L624.84,184.05 L624.95,182.55 L625.06,181.05 L625.17,179.55 L625.29,178.05 L625.41,176.55 L625.52,175.06 L625.64,173.56 L625.76,172.06 L625.88,170.57 L626.00,169.07 L626.12,167.57 L626.24,166.08 L626.36,164.58 L626.47,163.08 L626.59,161.58 L626.71,160.09 L626.82,158.59 L626.93,157.09 L627.04,155.59 L627.15,154.09 L627.25,152.60 L627.36,151.10 L627.46,149.60 L627.55,148.10 L627.64,146.60 L627.73,145.09 L627.82,143.59 L627.90,142.09 L627.98,140.59 L628.05,139.09 L628.12,137.58 L628.19,136.08 L628.26,134.58 L628.33,133.07 L628.39,131.57 L628.46,130.06 L628.52,128.56 L628.59,127.06 L628.66,125.56 L628.72,124.05 L628.79,122.55 L628.86,121.05 L628.94,119.55 L629.01,118.05 L629.09,116.55 L629.17,115.05 L629.26,113.56 L629.34,112.06 L629.44,110.56 L629.54,109.07 L629.64,107.58 L629.75,106.08 L629.87,104.59 L629.99,103.10 L630.13,101.60 L630.27,100.10 L630.42,98.60 L630.58,97.10 L630.75,95.59 L630.93,94.08 L631.12,92.56 L631.31,91.05 L631.50,89.55 L631.68,88.06 L631.84,86.59 L631.98,85.15 L632.10,83.72 L632.23,82.29 L632.43,80.79 L632.74,79.19 L633.21,77.49 L633.81,76.58 L634.46,77.48 L635.02,79.15 L635.41,80.75 L635.68,82.28 L635.86,83.75 L636.01,85.20 L636.14,86.66 L636.27,88.12 L636.40,89.59 L636.52,91.07 L636.64,92.56 L636.76,94.05 L636.87,95.55 L636.99,97.05 L637.10,98.55 L637.21,100.06 L637.32,101.57 L637.43,103.08 L637.54,104.59 L637.66,106.11 L637.77,107.62 L637.88,109.13 L638.00,110.64 L638.11,112.14 L638.23,113.64 L638.35,115.14 L638.48,116.63 L638.61,118.12 L638.74,119.60 L638.87,121.08 L639.01,122.56 L639.16,124.03 L639.31,125.52 L639.46,127.01 L639.62,128.51 L639.79,130.02 L639.97,131.54 L640.15,133.08 L640.33,134.62 L640.52,136.15 L640.70,137.67 L640.87,139.15 L641.04,140.60 L641.20,142.00 L641.35,143.35 L641.50,144.69 L641.70,146.08 L641.95,147.56 L642.29,149.18 L642.73,151.00 L643.29,152.87 L643.92,154.31 L644.59,154.78 L645.25,154.01 L645.87,152.41 L646.41,150.49 L646.85,148.68 L647.20,147.04 L647.46,145.53 L647.67,144.12 L647.83,142.76 L647.96,141.43 L648.08,140.09 L648.20,138.71 L648.32,137.29 L648.45,135.84 L648.58,134.35 L648.72,132.84 L648.85,131.31 L648.98,129.77 L649.10,128.22 L649.22,126.67 L649.33,125.13 L649.44,123.60 L649.54,122.08 L649.64,120.56 L649.73,119.06 L649.81,117.56 L649.89,116.07 L649.97,114.58 L650.05,113.10 L650.13,111.61 L650.21,110.12 L650.29,108.63 L650.37,107.14 L650.46,105.65 L650.54,104.15 L650.63,102.65 L650.72,101.15 L650.81,99.65 L650.90,98.15 L650.99,96.64 L651.08,95.14 L651.17,93.63 L651.26,92.13 L651.36,90.62 L651.45,89.11 L651.54,87.61 L651.64,86.10 L651.73,84.60 L651.83,83.09 L651.92,81.59 L652.01,80.09 L652.11,78.59 L652.20,77.09 L652.29,75.59 L652.38,74.10 L652.47,72.60 L652.56,71.11 L652.65,69.62 L652.74,68.14 L652.83,66.65 L652.91,65.17 L653.00,63.68 L653.09,62.20 L653.18,60.71 L653.28,59.21 L653.37,57.72 L653.47,56.21 L653.58,54.70 L653.69,53.19 L653.80,51.66 L653.92,50.13 L654.05,48.58 L654.18,47.03 L654.31,45.48 L654.45,43.93 L654.58,42.40 L654.72,40.89 L654.84,39.40 L654.96,37.94 L655.07,36.52 L655.18,35.13 L655.27,33.79 L655.36,32.46 L655.48,31.11 L655.63,29.68 L655.84,28.15 L656.12,26.47 L656.49,24.61 L656.95,22.66 L657.47,21.07 L658.03,20.32 L658.59,20.78 L659.12,22.20 L659.60,24.10 L660.00,26.02 L660.31,27.74 L660.55,29.31 L660.74,30.76 L660.88,32.13 L661.00,33.47 L661.10,34.80 L661.21,36.17 L661.32,37.58 L661.43,39.03 L661.55,40.50 L661.67,42.00 L661.79,43.52 L661.92,45.05 L662.06,46.59 L662.19,48.14 L662.33,49.68 L662.47,51.22 L662.62,52.74 L662.77,54.26 L662.92,55.77 L663.07,57.28 L663.22,58.78 L663.37,60.28 L663.51,61.77 L663.66,63.26 L663.80,64.75 L663.94,66.23 L664.08,67.71 L664.21,69.20 L664.34,70.68 L664.46,72.17 L664.57,73.66 L664.69,75.15 L664.80,76.64 L664.93,78.13 L665.06,79.62 L665.21,81.12 L665.37,82.61 L665.56,84.11 L665.78,85.60 L666.03,87.10 L666.31,88.60 L666.63,90.09 L667.00,91.59 L667.42,93.08 L667.88,94.58 L668.46,95.94 L669.39,96.42 L670.69,95.65 L671.72,94.33 L672.36,92.91 L672.97,91.49 L673.85,90.20 L675.00,89.38 L676.24,89.46 L677.37,90.90 L678.27,93.59 L678.88,95.69 L679.20,95.01" stroke="#0000ff"/>
</g>
<rect x="403.6" y="8.9" width="275.5" height="379.0" fill="none" stroke="#000" stroke-width="1.85"/>
<line x1="403.6" y1="350.00" x2="409.1" y2="350.00" stroke="#000" stroke-width="1.6"/>
<line x1="679.1" y1="350.00" x2="673.6" y2="350.00" stroke="#000" stroke-width="1.6"/>
<line x1="403.6" y1="312.10" x2="414.1" y2="312.10" stroke="#000" stroke-width="1.6"/>
<line x1="679.1" y1="312.10" x2="668.6" y2="312.10" stroke="#000" stroke-width="1.6"/>
<line x1="403.6" y1="274.20" x2="409.1" y2="274.20" stroke="#000" stroke-width="1.6"/>
<line x1="679.1" y1="274.20" x2="673.6" y2="274.20" stroke="#000" stroke-width="1.6"/>
<line x1="403.6" y1="236.30" x2="414.1" y2="236.30" stroke="#000" stroke-width="1.6"/>
<line x1="679.1" y1="236.30" x2="668.6" y2="236.30" stroke="#000" stroke-width="1.6"/>
<line x1="403.6" y1="198.40" x2="409.1" y2="198.40" stroke="#000" stroke-width="1.6"/>
<line x1="679.1" y1="198.40" x2="673.6" y2="198.40" stroke="#000" stroke-width="1.6"/>
<line x1="403.6" y1="160.50" x2="414.1" y2="160.50" stroke="#000" stroke-width="1.6"/>
<line x1="679.1" y1="160.50" x2="668.6" y2="160.50" stroke="#000" stroke-width="1.6"/>
<line x1="403.6" y1="122.60" x2="409.1" y2="122.60" stroke="#000" stroke-width="1.6"/>
<line x1="679.1" y1="122.60" x2="673.6" y2="122.60" stroke="#000" stroke-width="1.6"/>
<line x1="403.6" y1="84.70" x2="414.1" y2="84.70" stroke="#000" stroke-width="1.6"/>
<line x1="679.1" y1="84.70" x2="668.6" y2="84.70" stroke="#000" stroke-width="1.6"/>
<line x1="403.6" y1="46.80" x2="409.1" y2="46.80" stroke="#000" stroke-width="1.6"/>
<line x1="679.1" y1="46.80" x2="673.6" y2="46.80" stroke="#000" stroke-width="1.6"/>
<line x1="431.15" y1="387.9" x2="431.15" y2="382.4" stroke="#000" stroke-width="1.6"/>
<line x1="431.15" y1="8.9" x2="431.15" y2="14.4" stroke="#000" stroke-width="1.6"/>
<line x1="458.70" y1="387.9" x2="458.70" y2="377.4" stroke="#000" stroke-width="1.6"/>
<line x1="458.70" y1="8.9" x2="458.70" y2="19.4" stroke="#000" stroke-width="1.6"/>
<line x1="486.25" y1="387.9" x2="486.25" y2="382.4" stroke="#000" stroke-width="1.6"/>
<line x1="486.25" y1="8.9" x2="486.25" y2="14.4" stroke="#000" stroke-width="1.6"/>
<line x1="513.80" y1="387.9" x2="513.80" y2="377.4" stroke="#000" stroke-width="1.6"/>
<line x1="513.80" y1="8.9" x2="513.80" y2="19.4" stroke="#000" stroke-width="1.6"/>
<line x1="541.35" y1="387.9" x2="541.35" y2="382.4" stroke="#000" stroke-width="1.6"/>
<line x1="541.35" y1="8.9" x2="541.35" y2="14.4" stroke="#000" stroke-width="1.6"/>
<line x1="568.90" y1="387.9" x2="568.90" y2="377.4" stroke="#000" stroke-width="1.6"/>
<line x1="568.90" y1="8.9" x2="568.90" y2="19.4" stroke="#000" stroke-width="1.6"/>
<line x1="596.45" y1="387.9" x2="596.45" y2="382.4" stroke="#000" stroke-width="1.6"/>
<line x1="596.45" y1="8.9" x2="596.45" y2="14.4" stroke="#000" stroke-width="1.6"/>
<line x1="624.00" y1="387.9" x2="624.00" y2="377.4" stroke="#000" stroke-width="1.6"/>
<line x1="624.00" y1="8.9" x2="624.00" y2="19.4" stroke="#000" stroke-width="1.6"/>
<line x1="651.55" y1="387.9" x2="651.55" y2="382.4" stroke="#000" stroke-width="1.6"/>
<line x1="651.55" y1="8.9" x2="651.55" y2="14.4" stroke="#000" stroke-width="1.6"/>
<text x="398.6" y="396.1" font-size="26" text-anchor="end">0</text>
<text x="398.6" y="320.3" font-size="26" text-anchor="end">5</text>
<text x="398.6" y="244.5" font-size="26" text-anchor="end">10</text>
<text x="398.6" y="168.7" font-size="26" text-anchor="end">15</text>
<text x="398.6" y="92.9" font-size="26" text-anchor="end">20</text>
<text x="398.6" y="17.9" font-size="26" text-anchor="end">25</text>
<text x="403.6" y="411" font-size="26" text-anchor="middle">0.5</text>
<text x="458.7" y="411" font-size="26" text-anchor="middle">1</text>
<text x="513.8" y="411" font-size="26" text-anchor="middle">1.5</text>
<text x="568.9" y="411" font-size="26" text-anchor="middle">2</text>
<text x="624.0" y="411" font-size="26" text-anchor="middle">2.5</text>
<text x="679.1" y="411" font-size="26" text-anchor="middle">3</text>
<text x="541.5" y="432" font-size="22" text-anchor="middle">Energy (eV)</text>
<text transform="translate(357.2,240.8) rotate(-90) scale(1.035,1)" font-size="26">Im(α<tspan font-size="19.5" dy="10.8">2D</tspan><tspan dy="-10.8">)</tspan></text>
<rect x="412.6" y="20.9" width="34" height="25.3" fill="#fff" stroke="#000" stroke-width="1.2"/>
<text x="429.8" y="39.2" font-size="23" text-anchor="middle">(b)</text>
<rect x="423.6" y="94.1" width="155.2" height="56.1" fill="#fff" stroke="#000" stroke-width="1.2"/>
<line x1="429.7" y1="109.3" x2="451.5" y2="109.3" stroke="#0000ff" stroke-width="2.2"/>
<line x1="429.7" y1="134.9" x2="451.5" y2="134.9" stroke="#ff0000" stroke-width="2.2"/>
<text x="461.8" y="114.5" font-size="22.3">xy polarized</text>
<text x="461.8" y="139.8" font-size="22.3">z polarized</text>
<text x="496.3" y="242.9" font-size="23">A</text>
<text x="546.2" y="217" font-size="23">B</text>
<text x="523.6" y="365.6" font-size="22">SFD</text>
<text x="598.3" y="325" font-size="22.6" fill="#ff0000">x30</text>
</svg></body></html>
